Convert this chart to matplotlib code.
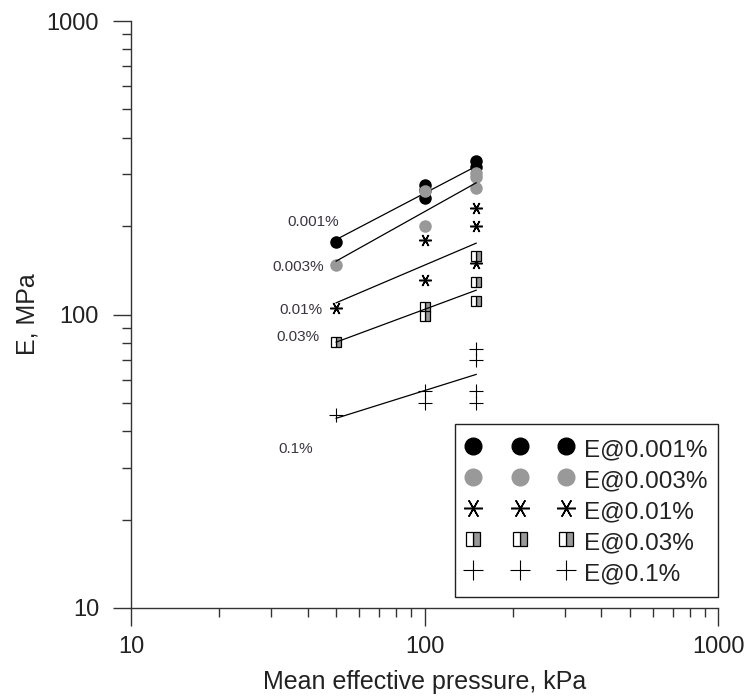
import numpy as np
import matplotlib
matplotlib.use('Agg')
import matplotlib.pyplot as plt
import matplotlib.ticker as mticker

plt.rcParams['font.family'] = ['Liberation Sans', 'DejaVu Sans']

# === Data ===
strain_labels = ['0.001%', '0.003%', '0.01%', '0.03%', '0.1%']

p_001 = [50, 100, 100, 100, 150, 150]
E_001 = [176, 277, 265, 250, 333, 318]
p_003 = [50, 100, 100, 150, 150, 150]
E_003 = [148, 263, 200, 304, 293, 270]
p_01 = [50, 100, 100, 150, 150, 150]
E_01 = [105, 180, 131, 231, 201, 150]
p_03 = [50, 100, 100, 150, 150, 150]
E_03 = [80.5, 106, 99, 158, 129, 111]
p_1 = [50, 100, 100, 150, 150, 150, 150]
E_1 = [45.3, 55, 50, 76, 70, 55, 50]

# trend lines (end points)
fit_p = [50, 150]
fit_001 = [180, 320]
fit_003 = [152, 281]
fit_01 = [109.6, 175]
fit_03 = [80.5, 121]
fit_1 = [44.3, 62.5]

series = [
    (p_001, E_001, fit_001, dict(marker='o', color='black', markersize=8)),
    (p_003, E_003, fit_003, dict(marker='o', color='#999999', markersize=8)),
    (p_01, E_01, fit_01, dict(marker=(6, 2, 90), color='black', markersize=9, markeredgewidth=1.1)),
    (p_03, E_03, fit_03, dict(marker='s', color='black', markersize=7, fillstyle='right',
                              markerfacecolor='#999999', markerfacecoloralt='white',
                              markeredgecolor='black', markeredgewidth=0.9)),
    (p_1, E_1, fit_1, dict(marker='+', color='black', markersize=10, markeredgewidth=0.8)),
]

# label offsets (points) relative to the first point of each series
label_offsets = [(2, 15), (-9, -1.5), (-10, -1.5), (-12, 3.5), (-17, -24.5)]

fig = plt.figure(figsize=(7.5, 7), dpi=100)
ax = fig.add_axes([131 / 750, 1 - 608 / 700, (718 - 131) / 750, (608 - 21) / 700])

handles = []
for (p, E, fit, style), lab, off in zip(series, strain_labels, label_offsets):
    h, = ax.plot(p, E, linestyle='none', label='E@' + lab, **style)
    handles.append(h)
    ax.plot(fit_p, fit, color='black', linewidth=0.9)
    ax.annotate(lab, xy=(p[0], E[0]), xytext=off, textcoords='offset points',
                ha='right', va='center', fontsize=11, color='#3a3540')

ax.set_xscale('log')
ax.set_yscale('log')
ax.set_xlim(10, 1000)
ax.set_ylim(10, 1000)

fmt = mticker.FuncFormatter(lambda v, _: f'{v:g}')
for a in (ax.xaxis, ax.yaxis):
    a.set_major_locator(mticker.LogLocator(base=10))
    a.set_minor_locator(mticker.LogLocator(base=10, subs=np.arange(2, 10)))
    a.set_major_formatter(fmt)
    a.set_minor_formatter(mticker.NullFormatter())

ax.spines['top'].set_visible(False)
ax.spines['right'].set_visible(False)
for s in ('left', 'bottom'):
    ax.spines[s].set_color('#333333')
    ax.spines[s].set_linewidth(1.0)

ax.tick_params(which='major', direction='out', length=13, width=1.0, color='#333333',
               labelsize=17, labelcolor='#222222')
ax.tick_params(which='minor', direction='out', length=6.5, width=1.0, color='#333333')
ax.tick_params(axis='y', which='major', pad=10)
ax.tick_params(axis='x', which='major', pad=7)

ax.set_xlabel('Mean effective pressure, kPa', fontsize=18, color='#222222', labelpad=9)
ax.set_ylabel('E, MPa', fontsize=18, color='#222222', labelpad=5)

leg = ax.legend(handles=handles, loc='upper right', bbox_to_anchor=(718 / 750, 1 - 424 / 700),
                bbox_transform=fig.transFigure, borderaxespad=0, numpoints=3,
                markerscale=1.5, fontsize=17.5, handlelength=4.44, handleheight=1.3,
                handletextpad=0.41, labelspacing=0.19, borderpad=0.45, fancybox=False,
                framealpha=1, edgecolor='#222222')
leg.get_frame().set_linewidth(1.0)
for t in leg.get_texts():
    t.set_color('#222222')

fig.savefig('out.png', dpi=100)
